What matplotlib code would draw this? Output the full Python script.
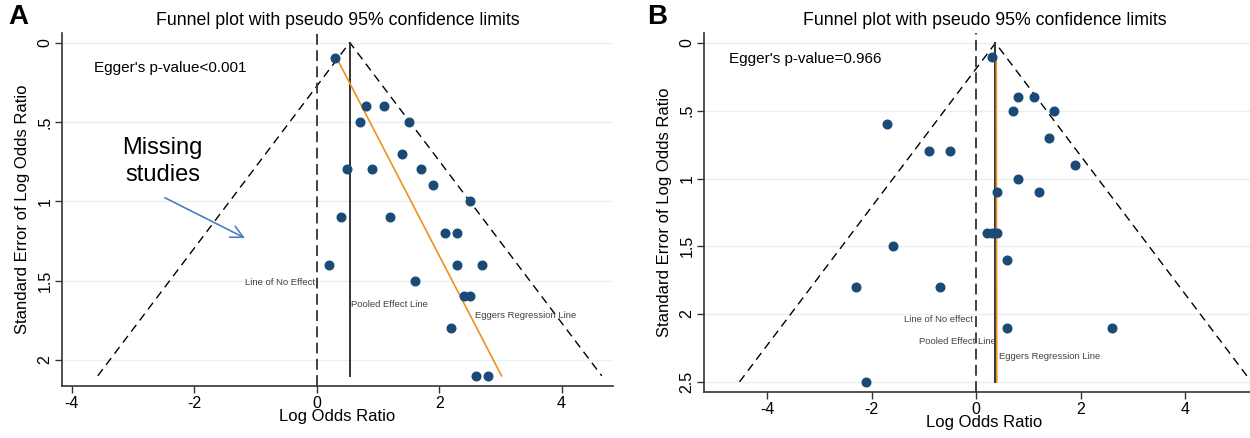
import matplotlib
matplotlib.use("Agg")
import matplotlib.pyplot as plt

plt.rcParams['font.family'] = ['Liberation Sans', 'DejaVu Sans']

# ---- data ----
# Panel A
a_lor = [0.3, 0.8, 1.1, 0.7, 1.5, 1.4, 0.5, 0.9, 1.7, 1.9, 2.5, 0.4, 1.2,
         2.1, 2.3, 0.2, 2.3, 2.7, 1.6, 2.4, 2.5, 2.2, 2.6, 2.8]
a_se = [0.1, 0.4, 0.4, 0.5, 0.5, 0.7, 0.8, 0.8, 0.8, 0.9, 1.0, 1.1, 1.1,
        1.2, 1.2, 1.4, 1.4, 1.4, 1.5, 1.6, 1.6, 1.8, 2.1, 2.1]
a_pooled = 0.54
a_se_max = 2.1
a_egger_x = [0.33, 3.02]
a_egger_y = [0.1, 2.1]

# Panel B
b_lor = [0.3, 0.8, 1.1, 0.7, 1.5, -1.7, 1.4, -0.9, -0.5, 1.9, 0.8, 0.4, 1.2,
         0.2, 0.3, 0.4, -1.6, 0.6, -2.3, -0.7, 0.6, 2.6, -2.1]
b_se = [0.1, 0.4, 0.4, 0.5, 0.5, 0.6, 0.7, 0.8, 0.8, 0.9, 1.0, 1.1, 1.1,
        1.4, 1.4, 1.4, 1.5, 1.6, 1.8, 1.8, 2.1, 2.1, 2.5]
b_pooled = 0.37
b_se_max = 2.5
b_egger_x = [0.385, 0.395]
b_egger_y = [0.1, 2.5]

yticks_a = [0, 0.5, 1, 1.5, 2]
yticks_b = [0, 0.5, 1, 1.5, 2, 2.5]
ytick_labels = ['0', '.5', '1', '1.5', '2', '2.5']

navy = '#1a4a78'
orange = '#f0901e'
grid_c = '#e8f0f2'
note_c = '#4a3f36'

fig = plt.figure(figsize=(12.5, 4.38), dpi=100)
axA = fig.add_axes([0.0496, 0.1187, 0.4408, 0.806])
axB = fig.add_axes([0.5632, 0.105, 0.4488, 0.8197])


def funnel(ax, lor, se, pooled, se_max, ex, ey, yticks, xlim, ylim):
    for t in yticks:
        ax.axhline(t, color=grid_c, lw=1.0, zorder=0)
    # pseudo 95% limits
    ax.plot([pooled - 1.96 * se_max, pooled, pooled + 1.96 * se_max],
            [se_max, 0, se_max], color='black', lw=1.0, ls=(0, (6, 4)), zorder=2)
    ax.axvline(0, color='#333333', lw=1.3, ls=(0, (6, 3)), zorder=2)
    ax.plot([pooled, pooled], [0, se_max], color='#333333', lw=1.4, zorder=2)
    ax.plot(ex, ey, color=orange, lw=1.2, zorder=3)
    ax.plot(lor, se, 'o', color=navy, ms=6.2, mec=navy, zorder=4)
    ax.set_xlim(*xlim)
    ax.set_ylim(*ylim)
    ax.set_yticks(yticks)
    ax.set_yticklabels(ytick_labels[:len(yticks)], rotation=90, va='center')
    ax.set_xticks([-4, -2, 0, 2, 4])
    ax.set_xticklabels(['-4', '-2', '0', '2', '4'])
    ax.tick_params(labelsize=11.5, length=5, width=1, color='#333333', pad=2)
    for s in ['top', 'right']:
        ax.spines[s].set_visible(False)
    for s in ['left', 'bottom']:
        ax.spines[s].set_linewidth(1.2)
        ax.spines[s].set_color('#333333')
    ax.set_xlabel('Log Odds Ratio', fontsize=12, labelpad=-1)
    ax.set_ylabel('Standard Error of Log Odds Ratio', fontsize=12, labelpad=5)
    ax.set_title('Funnel plot with pseudo 95% confidence limits', fontsize=12.8, pad=6)


funnel(axA, a_lor, a_se, a_pooled, a_se_max, a_egger_x, a_egger_y,
       yticks_a, (-4.16, 4.84), (2.164, -0.06))
funnel(axB, b_lor, b_se, b_pooled, b_se_max, b_egger_x, b_egger_y,
       yticks_b, (-5.21, 5.53), (2.575, -0.074))

# annotations panel A
axA.text(-3.63, 0.16, "Egger's p-value<0.001", fontsize=11, va='center')
axA.text(-2.52, 0.75, 'Missing\nstudies', fontsize=17, ha='center', va='center',
         linespacing=1.25)
axA.annotate('', xy=(-1.13, 1.24), xytext=(-2.52, 0.97),
             arrowprops=dict(arrowstyle='->', color='#4a7fc0', lw=1.2,
                             mutation_scale=22))
axA.text(-0.02, 1.51, 'Line of No Effect', fontsize=6.8, ha='right', va='center', color=note_c)
axA.text(0.56, 1.65, 'Pooled Effect Line', fontsize=6.8, ha='left', va='center', color=note_c)
axA.text(2.58, 1.72, 'Eggers Regression Line', fontsize=6.8, ha='left', va='center', color=note_c)

# annotations panel B
axB.text(-4.73, 0.12, "Egger's p-value=0.966", fontsize=11, va='center')
axB.text(-0.06, 2.04, 'Line of No effect', fontsize=6.8, ha='right', va='center', color=note_c)
axB.text(0.37, 2.20, 'Pooled Effect Line', fontsize=6.8, ha='right', va='center', color=note_c)
axB.text(0.44, 2.31, 'Eggers Regression Line', fontsize=6.8, ha='left', va='center', color=note_c)

fig.text(0.007, 0.945, 'A', fontsize=20, fontweight='bold')
fig.text(0.518, 0.945, 'B', fontsize=20, fontweight='bold')

fig.savefig('out.png', dpi=100)
